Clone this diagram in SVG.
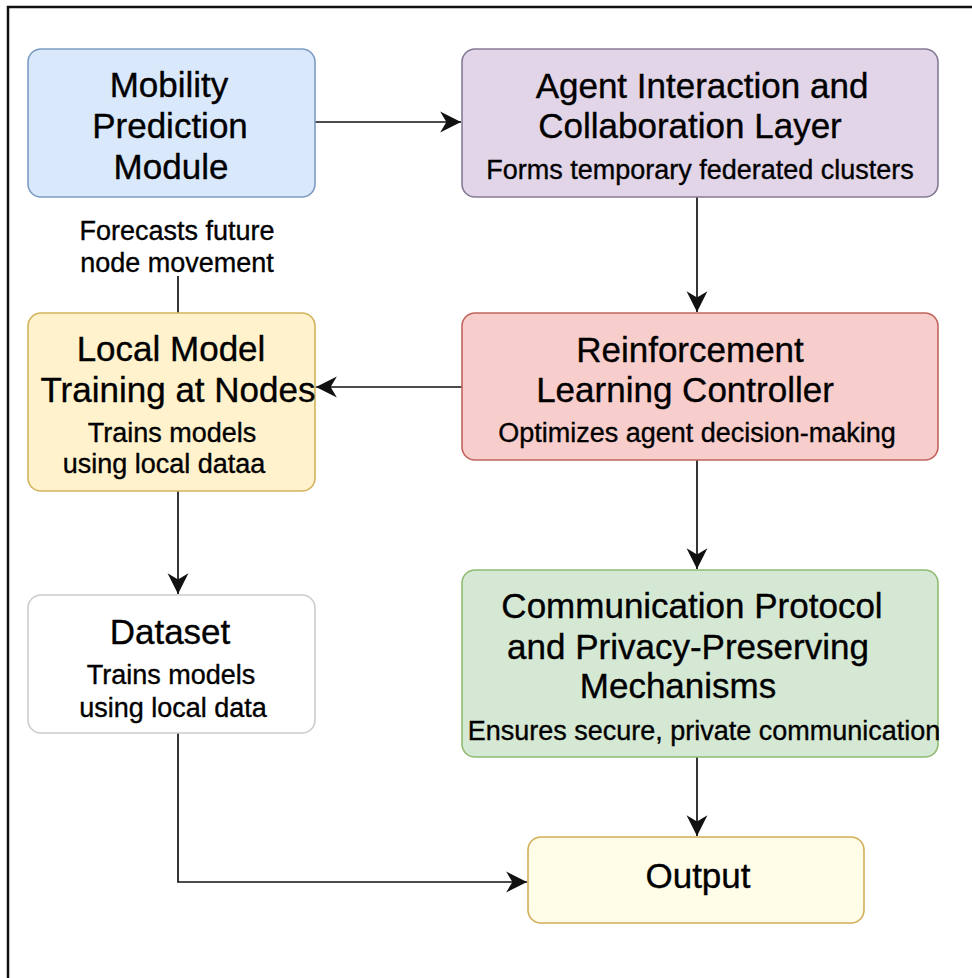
<svg xmlns="http://www.w3.org/2000/svg" width="972" height="978" viewBox="0 0 972 978">
<style>
text{font-family:"Liberation Sans",Arial,sans-serif;fill:#000;stroke:#000;stroke-width:0.35;text-anchor:middle}
.t{font-size:35px}
.s{font-size:27px}
.box{stroke-width:1.6}
.c{fill:none;stroke:#111;stroke-width:1.7}
</style>
<defs>
<marker id="ah" markerUnits="userSpaceOnUse" markerWidth="24" markerHeight="24" viewBox="-21 -11 23 22" refX="0" refY="0" orient="auto">
<path d="M0,0 L-20,-10 L-14,0 L-20,10 Z" fill="#111"/>
</marker>
</defs>
<rect width="972" height="978" fill="#fff"/>
<path d="M8,978 V7 H972" fill="none" stroke="#111" stroke-width="2.5"/>

<g id="connectors">
<path class="c" d="M315,122 H461" marker-end="url(#ah)"/>
<path class="c" d="M697,197 V312" marker-end="url(#ah)"/>
<path class="c" d="M462,387 H316" marker-end="url(#ah)"/>
<path class="c" d="M697,460 V569" marker-end="url(#ah)"/>
<path class="c" d="M697,757 V836" marker-end="url(#ah)"/>
<path class="c" d="M178,491 V594" marker-end="url(#ah)"/>
<path class="c" d="M178,733 V882 H527" marker-end="url(#ah)"/>
<path class="c" d="M178,276 V313"/>
</g>

<g id="mobility">
<rect class="box" x="28" y="49" width="287" height="148" rx="13" fill="#dae8fc" stroke="#7d9cc4"/>
<text class="t" x="169" y="97">Mobility</text>
<text class="t" x="170" y="138">Prediction</text>
<text class="t" x="171" y="179">Module</text>
</g>

<g id="forecast-label">
<text class="s" x="177" y="240">Forecasts future</text>
<text class="s" x="177" y="272">node movement</text>
</g>

<g id="agent">
<rect class="box" x="462" y="49" width="476" height="148" rx="13" fill="#e1d5e7" stroke="#857a96"/>
<text class="t" x="702" y="98">Agent Interaction and</text>
<text class="t" x="690" y="138">Collaboration Layer</text>
<text class="s" x="700" y="179">Forms temporary federated clusters</text>
</g>

<g id="rl">
<rect class="box" x="462" y="313" width="476" height="147" rx="13" fill="#f8cecc" stroke="#c0645c"/>
<text class="t" x="690" y="362">Reinforcement</text>
<text class="t" x="685" y="402">Learning Controller</text>
<text class="s" x="697" y="442">Optimizes agent decision-making</text>
</g>

<g id="local">
<rect class="box" x="28" y="313" width="287" height="178" rx="13" fill="#fff2cc" stroke="#d3b45c"/>
<text class="t" x="171" y="361">Local Model</text>
<text class="t" x="178" y="402">Training at Nodes</text>
<text class="s" x="172" y="442">Trains models</text>
<text class="s" x="164" y="473">using local dataa</text>
</g>

<g id="dataset">
<rect class="box" x="28" y="595" width="287" height="138" rx="13" fill="#ffffff" stroke="#cccccc"/>
<text class="t" x="170" y="644">Dataset</text>
<text class="s" x="171" y="684">Trains models</text>
<text class="s" x="173" y="717">using local data</text>
</g>

<g id="comm">
<rect class="box" x="462" y="570" width="476" height="187" rx="13" fill="#d5e8d4" stroke="#8fbc72"/>
<text class="t" x="692" y="618">Communication Protocol</text>
<text class="t" x="688" y="659">and Privacy-Preserving</text>
<text class="t" x="678" y="698">Mechanisms</text>
<text class="s" x="704" y="740">Ensures secure, private communication</text>
</g>

<g id="output">
<rect class="box" x="528" y="837" width="336" height="86" rx="13" fill="#fffde8" stroke="#d4ad5a"/>
<text class="t" x="698" y="888">Output</text>
</g>
</svg>
